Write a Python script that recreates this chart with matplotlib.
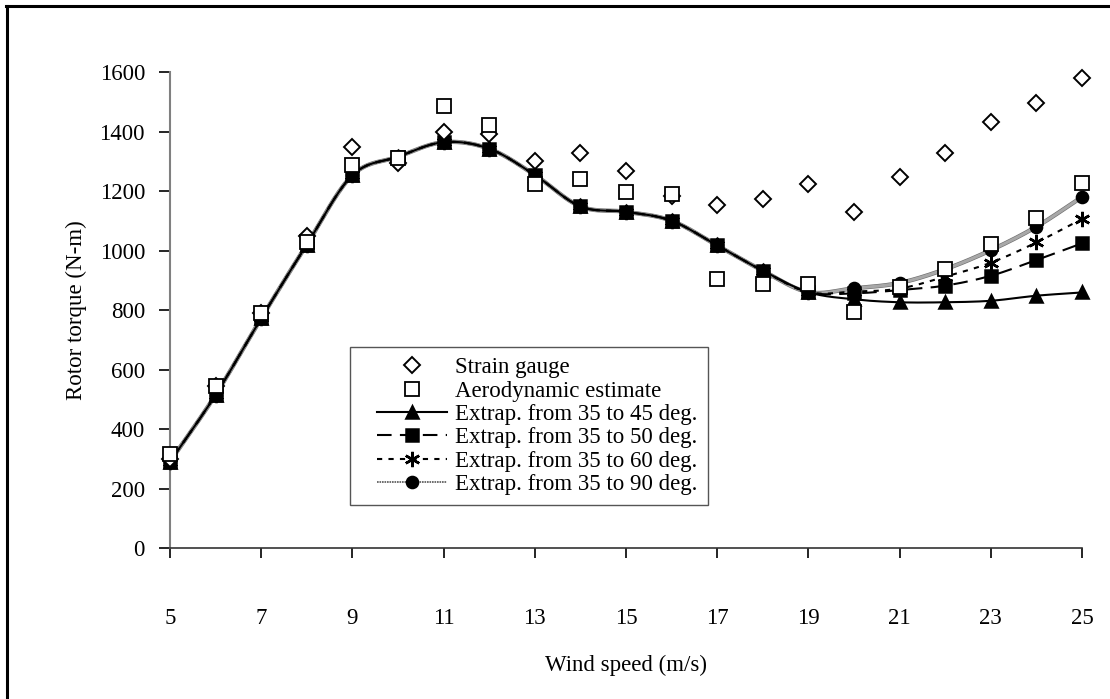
"""
Rotor torque vs wind speed: strain gauge, aerodynamic estimate and
four extrapolated-coefficient predictions.  Saves out.png.
"""

import numpy as np
import matplotlib
matplotlib.use("Agg")
import matplotlib.pyplot as plt
from matplotlib.lines import Line2D
from matplotlib.legend_handler import HandlerLine2D

wind = [5, 6, 7, 8, 9, 10, 11, 12, 13, 14, 15, 16, 17, 18, 19, 20, 21, 22, 23, 24, 25]

strain_gauge = [300, 545, 790, 1050, 1347, 1293, 1398, 1390, 1302, 1328, 1266, 1182,
                1152, 1173, 1222, 1128, 1248, 1328, 1432, 1495, 1580]
aero_estimate = [315, 545, 790, 1030, 1288, 1310, 1487, 1423, 1222, 1240, 1196, 1190,
                 903, 887, 887, 794, 876, 937, 1023, 1108, 1228]

# the four extrapolations agree up to 19 m/s
common = [290, 515, 772, 1020, 1253, 1315, 1364, 1342, 1254, 1148, 1130, 1100,
          1017, 932, 860]
extrap_45 = common + [836, 826, 826, 831, 848, 859]
extrap_50 = common + [856, 867, 882, 915, 968, 1024]
extrap_60 = common + [862, 872, 912, 959, 1027, 1106]
extrap_90 = common + [873, 891, 937, 1001, 1080, 1180]

x_ticks = [5, 7, 9, 11, 13, 15, 17, 19, 21, 23, 25]
y_ticks = [0, 200, 400, 600, 800, 1000, 1200, 1400, 1600]

FS = 16.5
plt.rcParams.update({
    "font.family": ["Liberation Serif", "DejaVu Serif"],
    "font.size": FS,
})


def smooth(x, y, n=20):
    """Catmull-Rom curve through the points, like a spreadsheet smoothed line."""
    x = np.asarray(x, float)
    y = np.asarray(y, float)
    px = np.concatenate([[2 * x[0] - x[1]], x, [2 * x[-1] - x[-2]]])
    py = np.concatenate([[2 * y[0] - y[1]], y, [2 * y[-1] - y[-2]]])
    t = np.linspace(0, 1, n, endpoint=False)
    xs, ys = [], []
    for i in range(1, len(px) - 2):
        for p, out in ((px, xs), (py, ys)):
            p0, p1, p2, p3 = p[i - 1], p[i], p[i + 1], p[i + 2]
            out.append(0.5 * (2 * p1 + (-p0 + p2) * t
                              + (2 * p0 - 5 * p1 + 4 * p2 - p3) * t ** 2
                              + (-p0 + 3 * p1 - 3 * p2 + p3) * t ** 3))
    xs.append([x[-1]])
    ys.append([y[-1]])
    return np.concatenate(xs), np.concatenate(ys)


fig = plt.figure(figsize=(11.1, 6.99), dpi=100)
ax = fig.add_axes([170 / 1110, 1 - 548 / 699, 912 / 1110, 476 / 699])

# frame around the chart (top and left edges visible)
fig.add_artist(Line2D([6 / 1110, 1], [1 - 6 / 699, 1 - 6 / 699], color="black",
                      lw=2.2, transform=fig.transFigure))
fig.add_artist(Line2D([7 / 1110, 7 / 1110], [0, 1 - 6 / 699], color="black",
                      lw=2.2, transform=fig.transFigure))

ax.plot(wind, strain_gauge, ls="none", marker="D", ms=8, mfc="white", mec="black",
        mew=1.4, zorder=5, clip_on=False)
ax.plot(wind, aero_estimate, ls="none", marker="s", ms=10, mfc="white", mec="black",
        mew=1.3, zorder=5, clip_on=False)

asterisk = (6, 2, 0)
series = [
    (extrap_90, "Extrap. from 35 to 90 deg.", dict(color="#a8a8a8", ls="-", lw=2.2), "o", 8, 2),
    (extrap_45, "Extrap. from 35 to 45 deg.", dict(color="black", ls="-", lw=1.5), "^", 9, 3),
    (extrap_50, "Extrap. from 35 to 50 deg.", dict(color="black", ls=(0, (7, 4)), lw=1.5), "s", 8, 3),
    (extrap_60, "Extrap. from 35 to 60 deg.", dict(color="black", ls=(0, (2.5, 3)), lw=1.5), asterisk, 11, 3),
]
for ys, label, style, mk, ms, z in series:
    sx, sy = smooth(wind, ys)
    if mk == "o":
        # darker rim round the grey band
        ax.plot(sx, sy, color="#707070", lw=style["lw"] + 0.9, zorder=1.9, clip_on=False)
    ax.plot(sx, sy, **style, zorder=z, clip_on=False)
    ax.plot(wind, ys, ls="none", marker=mk, ms=ms, color="black", mew=1.8,
            zorder=4, clip_on=False)

handles = [
    Line2D([], [], ls="none", marker="D", ms=8, mfc="white", mec="black", mew=1.4),
    Line2D([], [], ls="none", marker="s", ms=10, mfc="white", mec="black", mew=1.3),
]
order = [1, 2, 3, 0]
for i in order:
    ys, label, style, mk, ms, z = series[i]
    st = dict(style)
    if mk == "o":
        st.update(lw=1.2, ls=(0, (1, 0.5)), color="#555555")
    handles.append(Line2D([], [], marker=mk, ms=ms, mfc="black", mec="black", mew=1.8, **st))
labels = ["Strain gauge", "Aerodynamic estimate"] + [series[i][1] for i in order]

leg = ax.legend(handles, labels, loc="upper left",
                bbox_to_anchor=((350 - 170) / 912, (548 - 347) / 476),
                handler_map={Line2D: HandlerLine2D(xpad=0.74)},
                frameon=True, fancybox=False, edgecolor="#555555", framealpha=1,
                fontsize=FS, handlelength=3.8, handletextpad=0.35,
                labelspacing=0.1, borderpad=0.45, borderaxespad=0)
leg.get_frame().set_linewidth(1.0)
leg.set_zorder(10)

ax.set_xlim(5, 25)
ax.set_ylim(0, 1600)
ax.set_xticks(x_ticks)
ax.set_yticks(y_ticks)
for s in ("top", "right"):
    ax.spines[s].set_visible(False)
ax.spines["left"].set_color("#808080")
ax.spines["left"].set_linewidth(1.5)
ax.spines["bottom"].set_color("#333333")
ax.spines["bottom"].set_linewidth(1.2)
ax.tick_params(axis="x", direction="out", length=7, width=1.2, pad=36, labelsize=FS)
ax.tick_params(axis="y", direction="out", length=8, width=1.2, pad=10, labelsize=FS)

ax.set_xlabel("Wind speed (m/s)", fontsize=FS, labelpad=19)
ax.set_ylabel("Rotor torque (N-m)", fontsize=FS, labelpad=9)

fig.savefig("out.png", dpi=100)
